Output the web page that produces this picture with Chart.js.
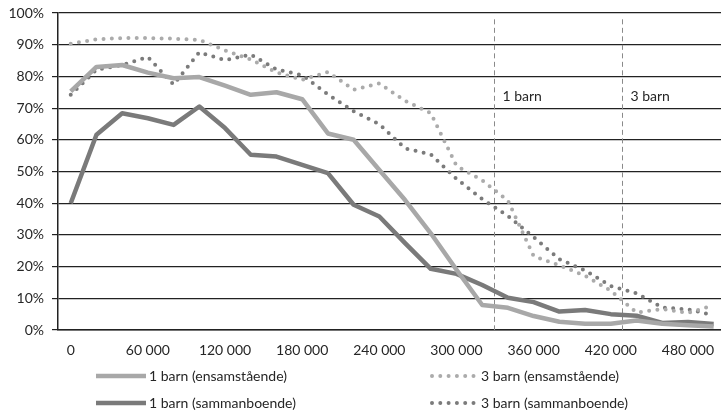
<!DOCTYPE html>
<html>
<head>
<meta charset="utf-8">
<script src="https://cdn.jsdelivr.net/npm/chart.js@4.4.0/dist/chart.umd.min.js"></script>
<style>
  body { margin: 0; background: #fff; }
  #wrap { width: 721px; height: 415px; }
</style>
</head>
<body>
<div id="wrap"><canvas id="chart"></canvas></div>
<script>
// inkomst (kr) per punkt
const income = [0, 20000, 40000, 60000, 80000, 100000, 120000, 140000, 160000, 180000,
  200000, 220000, 240000, 260000, 280000, 300000, 320000, 340000, 360000, 380000,
  400000, 420000, 440000, 460000, 480000, 500000];

const ens1 = [75.3, 83, 83.6, 81.2, 79.4, 79.8, 77.1, 74.2, 75, 72.8, 62, 60, 50.5, 41, 30.5, 19, 7.9, 7, 4.4, 2.6, 2, 2, 3, 2, 1.5, 1.1];
const sam1 = [40, 61.6, 68.4, 66.8, 64.7, 70.5, 63.7, 55.3, 54.7, 52.1, 49.5, 39.5, 35.8, 27.4, 19.3, 17.7, 14.2, 10.2, 8.8, 5.8, 6.3, 5, 4.5, 2.2, 2.5, 1.9];
const ens3 = [90.3, 91.7, 92.1, 92.1, 91.9, 91.5, 88.2, 85.3, 81.3, 78.9, 81.4, 75.8, 77.8, 72.3, 68.4, 51.8, 47.2, 40.8, 23.3, 20.4, 17.1, 12.4, 5.5, 6.6, 5.4, 7.8];
const sam3 = [74.2, 82.1, 83.6, 86.1, 77.4, 87.6, 85.1, 86.9, 82.2, 80.4, 74.3, 69, 64.9, 57.3, 55.4, 47.7, 41.3, 36, 29.3, 22.3, 18.8, 13.9, 11.6, 7.1, 6.5, 4.7];

const xTicks = [0, 60000, 120000, 180000, 240000, 300000, 360000, 420000, 480000];
const yTicks = [0, 10, 20, 30, 40, 50, 60, 70, 80, 90, 100];

// gränser för 1 resp. 3 barn
const limits = [{ x: 329000, label: '1 barn' }, { x: 429000, label: '3 barn' }];

const labels = ['1 barn (ensamstående)', '1 barn (sammanboende)', '3 barn (ensamstående)', '3 barn (sammanboende)'];

const FONT = 'Lato, "Open Sans", sans-serif';
const TXT = '#262626';

function pts(vals) {
  return vals.map((v, i) => ({ x: income[i], y: v }));
}
function fmt(v) {
  return String(v).replace(/\B(?=(\d{3})+(?!\d))/g, ' ');
}

const solid = { borderWidth: 4.5, pointRadius: 0, tension: 0, borderJoinStyle: 'round', borderCapStyle: 'butt' };
const dotted = { borderWidth: 4, pointRadius: 0, tension: 0, borderDash: [0, 8.3], borderCapStyle: 'round', borderJoinStyle: 'round' };

const limitLines = {
  id: 'limitLines',
  beforeDatasetsDraw(chart) {
    const { ctx, chartArea } = chart;
    const xs = chart.scales.x, ys = chart.scales.y;
    ctx.save();
    limits.forEach(l => {
      const px = Math.round(xs.getPixelForValue(l.x)) + 0.5;
      ctx.strokeStyle = '#8a8a8a';
      ctx.lineWidth = 1;
      ctx.setLineDash([5, 3.5]);
      ctx.beginPath();
      ctx.moveTo(px, ys.getPixelForValue(98));
      ctx.lineTo(px, chartArea.bottom);
      ctx.stroke();
      ctx.setLineDash([]);
      ctx.fillStyle = TXT;
      ctx.font = '14px ' + FONT;
      ctx.textBaseline = 'middle';
      ctx.textAlign = 'left';
      ctx.fillText(l.label, px + 8, ys.getPixelForValue(73.6));
    });
    ctx.restore();
  }
};

const legendBox = {
  id: 'legendBox',
  afterDraw(chart) {
    const { ctx } = chart;
    const spots = [[96, 376], [96, 403], [432, 376], [432, 403]];
    ctx.save();
    ctx.font = '14px ' + FONT;
    ctx.textBaseline = 'middle';
    chart.data.datasets.forEach((ds, i) => {
      const [x, y] = spots[i];
      ctx.strokeStyle = ds.borderColor;
      ctx.lineWidth = ds.borderWidth;
      ctx.lineCap = ds.borderDash ? 'round' : 'butt';
      ctx.setLineDash(ds.borderDash || []);
      ctx.beginPath();
      ctx.moveTo(x, y);
      ctx.lineTo(x + (ds.borderDash ? 42 : 50), y);
      ctx.stroke();
      ctx.setLineDash([]);
      ctx.fillStyle = TXT;
      ctx.fillText(ds.label, x + (ds.borderDash ? 49 : 53), y);
    });
    ctx.restore();
  }
};

new Chart(document.getElementById('chart'), {
  type: 'line',
  data: {
    datasets: [
      Object.assign({ label: labels[0], data: pts(ens1), borderColor: '#a8a8a8' }, solid),
      Object.assign({ label: labels[1], data: pts(sam1), borderColor: '#7a7a7a' }, solid),
      Object.assign({ label: labels[2], data: pts(ens3), borderColor: '#ababab' }, dotted),
      Object.assign({ label: labels[3], data: pts(sam3), borderColor: '#7b7b7b' }, dotted)
    ]
  },
  options: {
    responsive: true,
    maintainAspectRatio: false,
    animation: false,
    layout: { padding: { top: 13, right: 0, bottom: 0, left: 0 } },
    plugins: {
      legend: { display: false },
      tooltip: { enabled: false }
    },
    scales: {
      x: {
        type: 'linear',
        min: -9900,
        max: 505700,
        afterBuildTicks: s => { s.ticks = xTicks.map(v => ({ value: v })); },
        afterFit: s => { s.height = 85; s.paddingLeft = 0; s.paddingRight = 0; },
        grid: { display: false, drawTicks: false },
        border: { display: true, color: '#222', width: 1.5 },
        ticks: {
          padding: 12,
          maxRotation: 0,
          autoSkip: false,
          color: TXT,
          font: { family: FONT, size: 14 },
          callback: v => fmt(v)
        }
      },
      y: {
        min: 0,
        max: 100,
        afterBuildTicks: s => { s.ticks = yTicks.map(v => ({ value: v })); },
        afterFit: s => { s.width = 58; s.paddingTop = 0; s.paddingBottom = 0; },
        grid: { color: '#222', lineWidth: 1.2, tickLength: 6 },
        border: { display: true, color: '#222', width: 1.5 },
        ticks: {
          padding: 8,
          color: TXT,
          font: { family: FONT, size: 14 },
          callback: v => v + '%'
        }
      }
    }
  },
  plugins: [limitLines, legendBox]
});
</script>
</body>
</html>
